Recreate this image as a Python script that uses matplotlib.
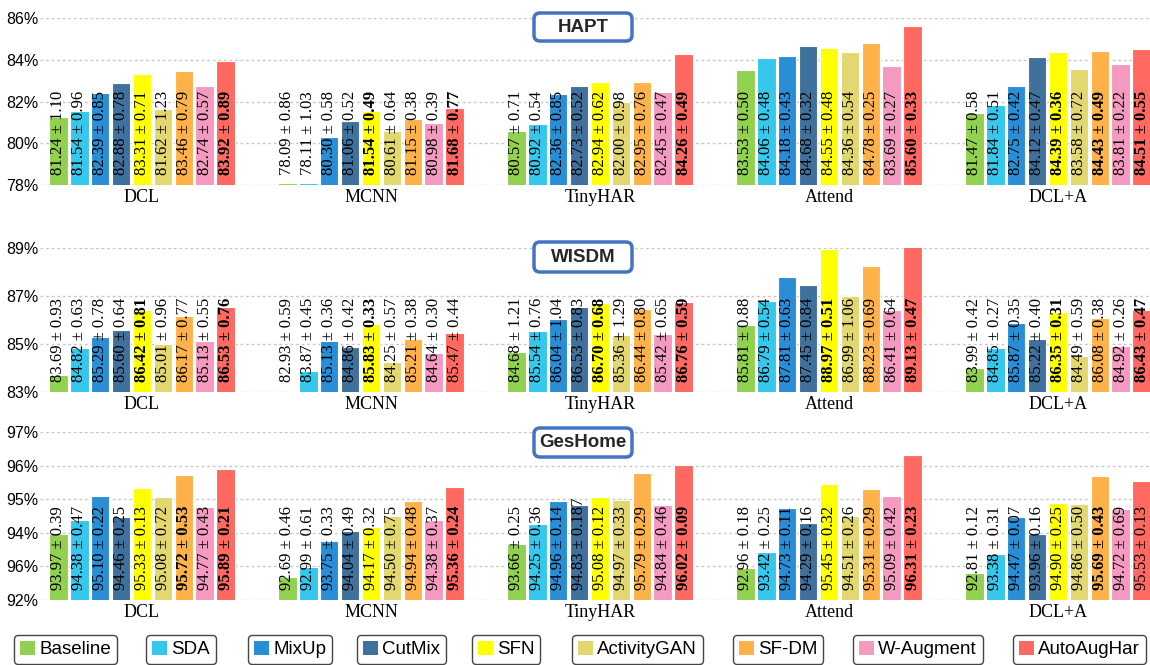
import matplotlib
matplotlib.use("Agg")
import matplotlib.pyplot as plt
import numpy as np
from matplotlib.patches import Patch, FancyBboxPatch

# methods and backbones
methods = ["Baseline", "SDA", "MixUp", "CutMix", "SFN", "ActivityGAN", "SF-DM", "W-Augment", "AutoAugHar"]
colors = ["#92D050", "#35C8EC", "#2A8ED6", "#3F719C", "#FFFF00", "#E2D86F", "#FFB24A", "#F49AC1", "#FF6961"]
backbones = ["DCL", "MCNN", "TinyHAR", "Attend", "DCL+A"]

# HAPT accuracy (%) per backbone, one entry per method
hapt_mean = [
    [81.24, 81.54, 82.39, 82.88, 83.31, 81.62, 83.46, 82.74, 83.92],
    [78.09, 78.11, 80.30, 81.06, 81.54, 80.61, 81.15, 80.98, 81.68],
    [80.57, 80.92, 82.36, 82.73, 82.94, 82.00, 82.95, 82.45, 84.26],
    [83.53, 84.06, 84.18, 84.68, 84.55, 84.36, 84.78, 83.69, 85.60],
    [81.47, 81.84, 82.75, 84.12, 84.39, 83.58, 84.43, 83.81, 84.51],
]
hapt_std = [
    ["1.10", "0.96", "0.85", "0.78", "0.71", "1.23", "0.79", "0.57", "0.89"],
    ["0.86", "1.03", "0.58", "0.52", "0.49", "0.64", "0.38", "0.39", "0.77"],
    ["0.71", "0.54", "0.85", "0.52", "0.62", "0.98", "0.76", "0.47", "0.49"],
    ["0.50", "0.48", "0.43", "0.32", "0.48", "0.54", "0.25", "0.27", "0.33"],
    ["0.58", "0.51", "0.42", "0.47", "0.36", "0.72", "0.49", "0.22", "0.55"],
]
hapt_bold = [[8], [4, 8], [8], [8], [4, 6, 8]]

# WISDM
wisdm_mean = [
    [83.69, 84.82, 85.29, 85.60, 86.42, 85.01, 86.17, 85.13, 86.53],
    [82.93, 83.87, 85.13, 84.86, 85.83, 84.25, 85.21, 84.64, 85.47],
    [84.68, 85.54, 86.04, 86.53, 86.70, 85.36, 86.44, 85.42, 86.76],
    [85.81, 86.79, 87.81, 87.45, 88.97, 86.99, 88.23, 86.41, 89.13],
    [83.99, 84.85, 85.87, 85.22, 86.35, 84.49, 86.08, 84.92, 86.43],
]
wisdm_std = [
    ["0.93", "0.63", "0.78", "0.64", "0.81", "0.96", "0.77", "0.55", "0.76"],
    ["0.59", "0.45", "0.36", "0.42", "0.33", "0.57", "0.38", "0.30", "0.44"],
    ["1.21", "0.76", "1.04", "0.83", "0.68", "1.29", "0.80", "0.65", "0.59"],
    ["0.88", "0.54", "0.63", "0.84", "0.51", "1.06", "0.69", "0.64", "0.47"],
    ["0.42", "0.27", "0.35", "0.40", "0.31", "0.59", "0.38", "0.26", "0.47"],
]
wisdm_bold = [[4, 8], [4], [4, 8], [4, 8], [4, 8]]

# GesHome
ges_mean = [
    [93.97, 94.38, 95.10, 94.46, 95.33, 95.08, 95.72, 94.77, 95.89],
    [92.69, 92.99, 93.75, 94.04, 94.17, 94.50, 94.94, 94.38, 95.36],
    [93.66, 94.25, 94.96, 94.83, 95.08, 94.97, 95.79, 94.84, 96.02],
    [92.96, 93.42, 94.73, 94.29, 95.45, 94.51, 95.31, 95.09, 96.31],
    [92.81, 93.38, 94.47, 93.96, 94.90, 94.86, 95.69, 94.72, 95.53],
]
ges_std = [
    ["0.39", "0.47", "0.22", "0.25", "0.13", "0.72", "0.53", "0.43", "0.21"],
    ["0.46", "0.61", "0.33", "0.49", "0.32", "0.75", "0.48", "0.37", "0.24"],
    ["0.25", "0.36", "0.14", "0.187", "0.12", "0.33", "0.29", "0.46", "0.09"],
    ["0.18", "0.25", "0.11", "0.16", "0.32", "0.26", "0.29", "0.42", "0.23"],
    ["0.12", "0.31", "0.07", "0.16", "0.25", "0.50", "0.43", "0.69", "0.13"],
]
ges_bold = [[6, 8], [8], [8], [8], [6]]

hapt_ticks = [78, 80, 82, 84, 86]
hapt_ticklabels = ["78%", "80%", "82%", "84%", "86%"]
wisdm_ticks = [83, 85, 87, 89]
wisdm_ticklabels = ["83%", "85%", "87%", "89%"]
ges_ticks = [92, 93, 94, 95, 96, 97]
ges_ticklabels = ["92%", "96%", "94%", "95%", "96%", "97%"]

panels = [
    ("HAPT", hapt_mean, hapt_std, hapt_bold, hapt_ticks, hapt_ticklabels),
    ("WISDM", wisdm_mean, wisdm_std, wisdm_bold, wisdm_ticks, wisdm_ticklabels),
    ("GesHome", ges_mean, ges_std, ges_bold, ges_ticks, ges_ticklabels),
]

W, H = 1150, 665
fig = plt.figure(figsize=(W / 100, H / 100), dpi=100)

# axes rectangles in pixels: (top, bottom)
ax_rows = [(18, 185), (248, 392), (432, 600)]
# title boxes in pixels: (top, bottom)
box_rows = [(13, 41), (242, 272), (428, 457)]

slot = 0.0913
bar_w = 0.081
offsets = (np.arange(len(methods)) - 4) * slot
group_x = np.arange(len(backbones))

serif = "Liberation Serif"
sans = "Liberation Sans"

for (name, means, stds, bold, ticks, ticklabels), (top, bot), (btop, bbot) in zip(panels, ax_rows, box_rows):
    ax = fig.add_axes([40 / W, 1 - bot / H, 1 - 40 / W, (bot - top) / H])
    ymin, ymax = ticks[0], ticks[-1]
    for g in range(len(backbones)):
        for m in range(len(methods)):
            x = group_x[g] + offsets[m]
            ax.bar(x, means[g][m], width=bar_w, color=colors[m],
                   edgecolor="white", linewidth=0.8, zorder=2)
            ax.annotate(f"{means[g][m]:.2f} ± {stds[g][m]}", xy=(x, ymin),
                        xytext=(0, 7.5), textcoords="offset points",
                        rotation=90, ha="center", va="bottom",
                        fontsize=12, family=serif,
                        fontweight="bold" if m in bold[g] else "normal",
                        zorder=3)
    ax.set_ylim(ymin, ymax)
    ax.set_xlim(-0.4454, 4.4017)
    ax.set_yticks(ticks)
    ax.set_yticklabels(ticklabels, family=sans, fontsize=11.5)
    ax.set_xticks(group_x)
    ax.set_xticklabels(backbones, family=serif, fontsize=13)
    ax.tick_params(axis="both", length=0)
    ax.tick_params(axis="x", pad=3)
    ax.tick_params(axis="y", pad=1)
    ax.grid(axis="y", linestyle=(0, (2, 2)), color="#C8C8C8", linewidth=1, zorder=0)
    ax.set_axisbelow(True)
    for s in ax.spines.values():
        s.set_visible(False)
    ax.patch.set_alpha(0)

    # dataset name box
    bx0, bx1 = 534, 632
    box = FancyBboxPatch((bx0 / 100, (H - bbot) / 100), (bx1 - bx0) / 100, (bbot - btop) / 100,
                         boxstyle="round,pad=0,rounding_size=0.06",
                         transform=fig.dpi_scale_trans, facecolor="white",
                         edgecolor="#4472C4", linewidth=2.5, zorder=5)
    fig.patches.append(box)
    fig.text((bx0 + bx1) / 2 / W, 1 - (btop + bbot) / 2 / H, name, ha="center", va="center",
             family=sans, fontweight="bold", fontsize=13.5, color="#262626", zorder=6)

# one framed legend entry per method
legend_left = [14, 146, 248, 357, 472, 572, 733, 853, 1013]
for m, lx in enumerate(legend_left):
    leg = fig.legend(handles=[Patch(facecolor=colors[m], edgecolor="none")], labels=[methods[m]],
                     loc="lower left", bbox_to_anchor=(lx / W, 1 / H), borderaxespad=0,
                     frameon=True, fancybox=True, framealpha=1, edgecolor="#444444",
                     handlelength=0.8, handleheight=0.8, handletextpad=0.25,
                     borderpad=0.3, prop={"family": sans, "size": 13.5})
    leg.get_frame().set_linewidth(1.0)

fig.savefig("out.png", dpi=100)
